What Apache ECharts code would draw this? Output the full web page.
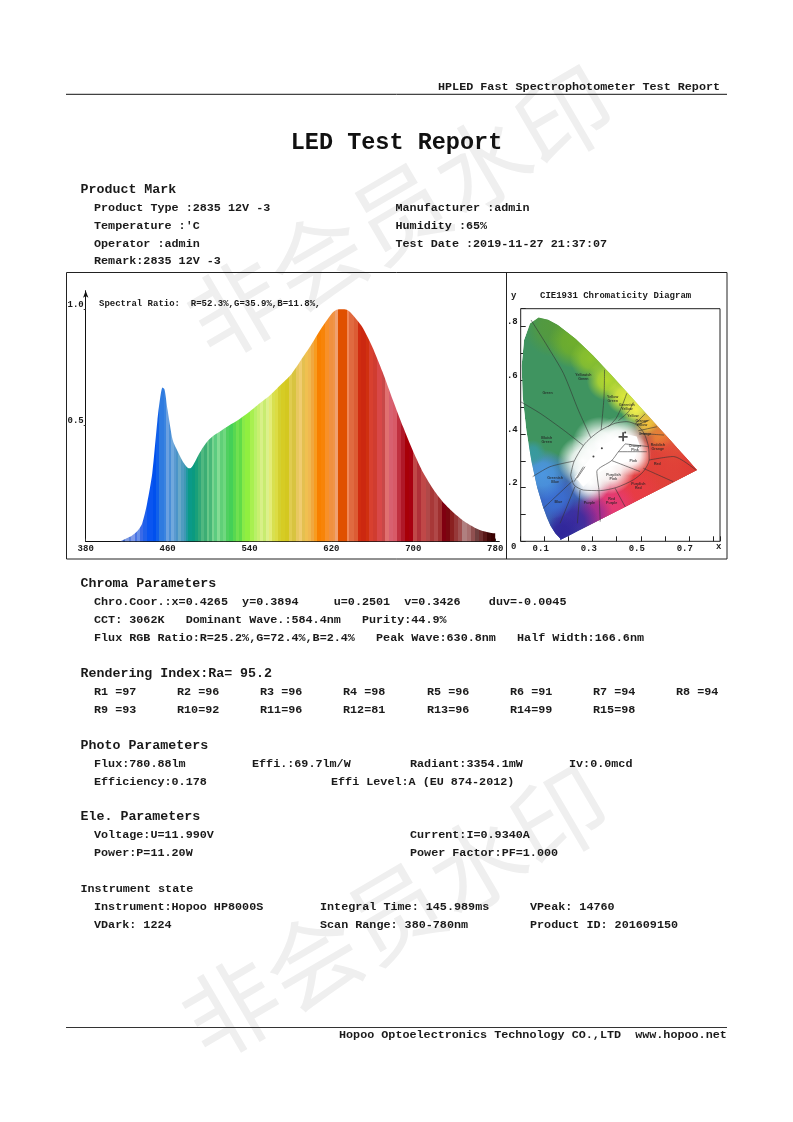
<!DOCTYPE html>
<html><head><meta charset="utf-8">
<style>html,body{margin:0;padding:0;background:#fff}#c{width:793px;height:1122px}</style>
<script src="https://cdn.jsdelivr.net/npm/echarts@6/dist/echarts.min.js"></script>
</head><body><div id="c"></div>
<script>
const wavelengths=[380,390,400,410,414,420,425,430,435,440,445,450,452,455,457,460,465,470,475,480,482,485,490,495,500,505,510,520,530,540,550,560,570,580,590,600,610,620,625,630,635,640,650,660,670,680,690,700,710,720,730,740,750,760,770,778,780];
const intensity=[0,0,0,0,0.002,0.014,0.025,0.043,0.076,0.165,0.294,0.52,0.595,0.663,0.655,0.566,0.437,0.387,0.344,0.317,0.316,0.33,0.372,0.408,0.437,0.457,0.471,0.5,0.527,0.559,0.595,0.63,0.673,0.716,0.78,0.845,0.917,0.98,0.998,1,0.998,0.98,0.925,0.838,0.73,0.61,0.494,0.387,0.294,0.222,0.165,0.122,0.086,0.06,0.043,0.036,0.036];
// colour stripes under the curve: each colour runs up to the matching end wavelength
const bandEnds=[412,416,418,422,424,428,430,433,436,440,446,449,452,456,458,461,463,466,468,470,473,476,478,480,484,487,490,493,496,498,500,503,505,508,511,514,517,520,524,527,530,533,536,540,544,547,550,553,556,559,562,565,568,571,575,579,582,585,588,591,594,597,600,603,606,610,614,618,622,624,626,635,637,642,646,649,654,657,661,665,669,672,676,680,684,688,692,696,700,704,708,712,716,720,724,728,732,736,740,744,748,752,756,760,764,768,772,776,780];
const bandColors=['#7f9ae0','#6f8ce0','#3f68c8','#7f9ae0','#5a80e0','#7f9ae8','#4a74e4','#6a90e8','#3a6ae8','#2060ea','#0a55f0','#0050ee','#1060ea','#2f7be0','#3a84e0','#6aa0e0','#4a8fd8','#70a8dc','#5a9ad0','#4a94c8','#68a8c8','#4f9cc0','#3f98b4','#1f9aa0','#0a9a88','#0a9a80','#18a07a','#30a878','#50b880','#3cae74','#68c888','#48b878','#78d490','#5ccc80','#84dc94','#60cf78','#70d880','#50d060','#44d058','#58d850','#70e050','#60dc48','#88ea48','#90ef40','#a8f050','#b8f068','#c8f070','#d8f088','#c8ec70','#dcf08c','#e4ec78','#d8e050','#dcdc44','#d4d030','#d6cc24','#d4c820','#e0cc50','#d8c440','#e8c860','#f0cc70','#e4c050','#f0c050','#f0b850','#f0a840','#f89c20','#f88000','#f88408','#f89028','#f09040','#f09448','#f0a070','#e05000','#f08858','#e06a40','#dc5c34','#d02c10','#cc2810','#d03010','#d84030','#d03c30','#d84848','#c84848','#e07070','#d86070','#d85a68','#c03040','#b01828','#a80008','#a80010','#c04848','#b03038','#c04848','#b04848','#a83838','#b04848','#a03030','#800010','#7a0810','#8a2020','#963838','#a05050','#b08080','#a87070','#905050','#704040','#703030','#5a1818','#400808','#3a0000'];
const xTicks=[380,460,540,620,700,780];
const yTicks=[0.5,1.0];
const cieXLabels=[0.1,0.3,0.5,0.7];
const cieYLabels=[0.2,0.4,0.6,0.8];
const locusX=[0.165,0.1644,0.1566,0.144,0.1241,0.1096,0.0913,0.0687,0.0454,0.0235,0.0082,0.0039,0.0139,0.0389,0.0743,0.1142,0.1547,0.2296,0.3016,0.3731,0.4441,0.5125,0.5752,0.627,0.6658,0.6915,0.719,0.7347];
const locusY=[0.005,0.0109,0.0177,0.0297,0.0578,0.0868,0.1327,0.2007,0.295,0.4127,0.5384,0.6548,0.7502,0.812,0.8338,0.8262,0.8059,0.7543,0.6923,0.6245,0.5547,0.4866,0.4242,0.3725,0.334,0.3083,0.2809,0.2653];
const blobs=[[0.5,0.2,0.24,'#e04048'],[0.62,0.3,0.22,'#e04038'],[0.38,0.1,0.16,'#d83a78'],[0.15,0.14,0.2,'#3a5cc0'],[0.14,0.8,0.12,'#559a3c'],[0.22,0.74,0.1,'#6fae2c'],[0.29,0.68,0.08,'#8cc22c'],[0.36,0.6,0.08,'#b4d82e'],[0.43,0.54,0.07,'#dce83a'],[0.48,0.49,0.06,'#f4ee4c'],[0.53,0.44,0.055,'#f4c23c'],[0.59,0.39,0.065,'#ea8336'],[0.65,0.32,0.1,'#e2503a'],[0.72,0.27,0.1,'#e03a34'],[0.58,0.25,0.13,'#e04038'],[0.47,0.17,0.12,'#e83c44'],[0.38,0.13,0.1,'#e63a74'],[0.3,0.1,0.08,'#a02c90'],[0.22,0.07,0.1,'#3a2a9e'],[0.17,0.03,0.07,'#30269a'],[0.14,0.16,0.08,'#3b6ed0'],[0.09,0.25,0.1,'#4c96e0'],[0.05,0.33,0.05,'#389aa0'],[0.26,0.3,0.1,'#ffffff'],[0.33,0.36,0.11,'#ffffff'],[0.41,0.37,0.1,'#ffffff'],[0.46,0.32,0.08,'#ffffff'],[0.37,0.27,0.1,'#ffffff'],[0.29,0.22,0.08,'#ffffff']];
const whiteCore=[[0.226,0.24],[0.33,0.352],[0.428,0.402],[0.483,0.391],[0.497,0.353],[0.469,0.303],[0.372,0.279],[0.317,0.253],[0.261,0.203]];
const regionLines=[
[[0.043,0.825],[0.108,0.732],[0.178,0.626],[0.24,0.489],[0.292,0.386]],
[[0,0.52],[0.081,0.477],[0.178,0.415],[0.261,0.357]],
[[0.349,0.639],[0.347,0.539],[0.335,0.415]],
[[0.442,0.552],[0.421,0.502],[0.397,0.458],[0.365,0.427]],
[[0.469,0.518],[0.449,0.483],[0.407,0.45]],
[[0.518,0.475],[0.476,0.437]],
[[0.536,0.452],[0.483,0.434]],
[[0.567,0.427],[0.49,0.412]],
[[0.597,0.396],[0.497,0.402]],
[[0.208,0.247],[0.222,0.297],[0.261,0.357],[0.292,0.386],[0.335,0.415],[0.393,0.44],[0.442,0.446],[0.483,0.434],[0.514,0.402],[0.532,0.353],[0.535,0.303],[0.511,0.26],[0.469,0.229],[0.4,0.201],[0.331,0.189],[0.261,0.191],[0.222,0.21],[0.208,0.247]],
[[0.435,0.363],[0.407,0.334],[0.379,0.301],[0.317,0.26],[0.326,0.192]],
[[0.435,0.363],[0.532,0.353]],
[[0.407,0.334],[0.525,0.334]],
[[0.379,0.301],[0.497,0.26]],
[[0.535,0.303],[0.636,0.316],[0.729,0.266]],
[[0.511,0.272],[0.636,0.222]],
[[0.393,0.198],[0.435,0.129]],
[[0.326,0.189],[0.331,0.073]],
[[0.247,0.191],[0.236,0.067]],
[[0.226,0.204],[0.164,0.067]],
[[0.217,0.226],[0.094,0.123]],
[[0.222,0.299],[0.122,0.278],[0.05,0.241]],
[[0.222,0.222],[0.261,0.278]],
[[0.235,0.235],[0.268,0.278]]];
const regionNames=[['Green',0.112,0.552],['Yellowish\nGreen',0.261,0.611],['Yellow\nGreen',0.383,0.532],['Greenish\nYellow',0.442,0.502],['Yellow',0.467,0.468],['Orange\nYellow',0.504,0.442],['Orange',0.518,0.4],['Reddish\nOrange',0.571,0.35],['Red',0.569,0.288],['Purplish\nRed',0.49,0.206],['Red\nPurple',0.379,0.152],['Purple',0.286,0.142],['Blue',0.157,0.148],['Greenish\nBlue',0.143,0.229],['Bluish\nGreen',0.108,0.378],['Orange\nPink',0.476,0.349],['Pink',0.469,0.301],['Purplish\nPink',0.386,0.241]];
const planckDots=[[0.303,0.316],[0.338,0.347],[0.435,0.406]];
const measuredPoint=[0.4265,0.3894];

const MONO='"Liberation Mono","DejaVu Sans Mono",monospace';
const HEAD=13.3,BODY=11.75;
const rows=[
['HPLED Fast Spectrophotometer Test Report',438,86.7,BODY],
['Product Mark',80.5,190,HEAD],
['Product Type :2835 12V -3',94,208,BODY],['Manufacturer :admin',395.5,208,BODY],
["Temperature :'C",94,226,BODY],['Humidity :65%',395.5,226,BODY],
['Operator :admin',94,244,BODY],['Test Date :2019-11-27 21:37:07',395.5,244,BODY],
['Remark:2835 12V -3',94,261.5,BODY],
['Chroma Parameters',80.5,584,HEAD],
['Chro.Coor.:x=0.4265  y=0.3894     u=0.2501  v=0.3426    duv=-0.0045',94,602,BODY],
['CCT: 3062K   Dominant Wave.:584.4nm   Purity:44.9%',94,620,BODY],
['Flux RGB Ratio:R=25.2%,G=72.4%,B=2.4%   Peak Wave:630.8nm   Half Width:166.6nm',94,638,BODY],
['Rendering Index:Ra= 95.2',80.5,674,HEAD],
['R1 =97',94,692,BODY],['R2 =96',177,692,BODY],['R3 =96',260,692,BODY],['R4 =98',343,692,BODY],['R5 =96',427,692,BODY],['R6 =91',510,692,BODY],['R7 =94',593,692,BODY],['R8 =94',676,692,BODY],
['R9 =93',94,710,BODY],['R10=92',177,710,BODY],['R11=96',260,710,BODY],['R12=81',343,710,BODY],['R13=96',427,710,BODY],['R14=99',510,710,BODY],['R15=98',593,710,BODY],
['Photo Parameters',80.5,746,HEAD],
['Flux:780.88lm',94,764,BODY],['Effi.:69.7lm/W',252,764,BODY],['Radiant:3354.1mW',410,764,BODY],['Iv:0.0mcd',569,764,BODY],
['Efficiency:0.178',94,782,BODY],['Effi Level:A (EU 874-2012)',331,782,BODY],
['Ele. Parameters',80.5,817,HEAD],
['Voltage:U=11.990V',94,835,BODY],['Current:I=0.9340A',410,835,BODY],
['Power:P=11.20W',94,853,BODY],['Power Factor:PF=1.000',410,853,BODY],
['Instrument state',80.5,889,BODY],
['Instrument:Hopoo HP8000S',94,907,BODY],['Integral Time: 145.989ms',320,907,BODY],['VPeak: 14760',530,907,BODY],
['VDark: 1224',94,925,BODY],['Scan Range: 380-780nm',320,925,BODY],['Product ID: 201609150',530,925,BODY],
['Hopoo Optoelectronics Technology CO.,LTD  www.hopoo.net',339,1035,BODY],
['Spectral Ratio:  R=52.3%,G=35.9%,B=11.8%,',99,304,9],
['CIE1931 Chromaticity Diagram',540,295.5,9],
['y',511,296,9],['0',511,546.5,9],['x',716,546.5,9]
];
function textEl(r){return {type:'text',x:r[1],y:r[2],z:5,style:{text:r[0],font:'bold '+r[3]+'px '+MONO,fill:'#1a1a1a',textVerticalAlign:'middle',textAlign:'left'}};}
function lineEl(x1,y1,x2,y2,w,c){return {type:'line',z:4,shape:{x1,y1,x2,y2},style:{stroke:c||'#222',lineWidth:w||1}};}
function markEl(x,y){return {type:'text',x,y,rotation:0.53,z:-10,style:{text:'非会员水印',font:'95px "Noto Sans CJK SC"',fill:'#efefef',textAlign:'center',textVerticalAlign:'middle'}};}

const axisSpan=780-380;
const stops=[];
let bandStart=380;
bandEnds.forEach((end,i)=>{
  stops.push({offset:(bandStart-380)/axisSpan,color:bandColors[i]},{offset:(end-380)/axisSpan,color:bandColors[i]});
  bandStart=end;
});

const chart=echarts.init(document.getElementById('c'),null,{renderer:'canvas'});
const lab={fontFamily:MONO,fontWeight:'bold',fontSize:9,color:'#1a1a1a'};
const cieSeriesBase={xAxisIndex:1,yAxisIndex:1,silent:true};
function blobShape(api){
  const poly=locusX.map((x,i)=>api.coord([x,locusY[i]]));
  const children=[{type:'polygon',shape:{points:poly},style:{fill:'#3f9460'}}];
  blobs.forEach(b=>{
    const c=api.coord([b[0],b[1]]);
    const r=b[2]*255;
    children.push({type:'circle',shape:{cx:c[0],cy:c[1],r},style:{fill:new echarts.graphic.RadialGradient(0.5,0.5,0.5,[{offset:0,color:b[3]},{offset:0.45,color:echarts.color.modifyAlpha(b[3],0.85)},{offset:1,color:echarts.color.modifyAlpha(b[3],0)}])}});
  });
  children.push({type:'polygon',shape:{points:whiteCore.map(p=>api.coord(p))},style:{fill:'#fff',shadowBlur:14,shadowColor:'#fff'}});
  return {type:'group',clipPath:{type:'polygon',shape:{points:poly}},children};
}
const option={
  animation:false,backgroundColor:'#fff',
  grid:[
    {left:85.7,top:290.7,width:413.6,height:250.9,containLabel:false},
    {left:520.7,top:308.7,width:199.3,height:232.6,show:true,borderColor:'#222',borderWidth:1,backgroundColor:'transparent'}
  ],
  xAxis:[
    {gridIndex:0,type:'value',min:380,max:784,splitLine:{show:false},
     axisLine:{lineStyle:{color:'#111',width:1}},
     axisTick:{show:true,inside:true,length:3,customValues:xTicks,lineStyle:{color:'#333'}},
     axisLabel:Object.assign({customValues:xTicks,margin:3,showMinLabel:true,showMaxLabel:true},lab)},
    {gridIndex:1,type:'value',min:0,max:0.83,interval:0.1,splitLine:{show:false},
     axisLine:{show:false},
     axisTick:{show:true,inside:true,length:5,lineStyle:{color:'#222'}},
     axisLabel:Object.assign({customValues:cieXLabels,margin:3,padding:[0,8,0,0],formatter:v=>v.toFixed(1)},lab)}
  ],
  yAxis:[
    {gridIndex:0,type:'value',min:0,max:1.08,splitLine:{show:false},
     axisLine:{show:true,symbol:['none','arrow'],symbolSize:[4,7],lineStyle:{color:'#111',width:1}},
     axisTick:{show:true,length:2,customValues:yTicks,lineStyle:{color:'#333'}},
     axisLabel:Object.assign({customValues:yTicks,margin:2,verticalAlign:'bottom',formatter:v=>v.toFixed(1)},lab)},
    {gridIndex:1,type:'value',min:0,max:0.867,interval:0.1,splitLine:{show:false},
     axisLine:{show:false},
     axisTick:{show:true,inside:true,length:5,lineStyle:{color:'#222'}},
     axisLabel:Object.assign({customValues:cieYLabels,margin:3,verticalAlign:'bottom',formatter:v=>v.toFixed(1).replace(/^0/,'')},lab)}
  ],
  series:[
    {type:'line',xAxisIndex:0,yAxisIndex:0,data:wavelengths.map((w,i)=>[w,intensity[i]]),smooth:0.25,showSymbol:false,lineStyle:{width:0},
     areaStyle:{opacity:1,color:{type:'linear',x:0,y:0,x2:1,y2:0,colorStops:stops}},z:2},
    Object.assign({type:'custom',coordinateSystem:'cartesian2d',data:[[0,0]],renderItem:(p,api)=>blobShape(api),clip:true,z:2},cieSeriesBase)
  ].concat(regionLines.map(l=>Object.assign({type:'line',data:l,showSymbol:false,smooth:0.25,lineStyle:{color:'#333',width:0.6},z:3},cieSeriesBase))).concat([
    Object.assign({type:'scatter',data:regionNames.map(n=>({value:[n[1],n[2]],name:n[0]})),symbolSize:0,z:4,
      label:{show:true,position:'inside',formatter:'{b}',fontSize:3.6,lineHeight:4,fontFamily:'"Liberation Sans"',fontWeight:'bold',color:'#222'}},cieSeriesBase),
    Object.assign({type:'scatter',data:planckDots,symbol:'circle',symbolSize:2,itemStyle:{color:'#111'},z:5},cieSeriesBase),
    Object.assign({type:'scatter',data:[measuredPoint],symbol:'path://M4 0H6V4H10V6H6V10H4V6H0V4H4Z',symbolSize:9,itemStyle:{color:'#222'},z:6},cieSeriesBase)
  ]),
  graphic:{elements:[
    markEl(400,212),markEl(395,912),
    lineEl(66,94.3,727,94.3,1,'#111'),lineEl(66,1027.5,727,1027.5,1.2,'#333'),
    lineEl(66.5,272.5,727,272.5,1,'#222'),lineEl(66.5,559,727,559,1,'#222'),
    lineEl(66.5,272.5,66.5,559,1,'#222'),lineEl(727,272.5,727,559,1,'#222'),lineEl(506.5,272.5,506.5,559,1,'#222'),
    {type:'text',x:396.5,y:143,z:5,style:{text:'LED Test Report',font:'bold 23.5px '+MONO,fill:'#111',textAlign:'center',textVerticalAlign:'middle'}}
  ].concat(rows.map(textEl))}
};
chart.setOption(option);
</script></body></html>
